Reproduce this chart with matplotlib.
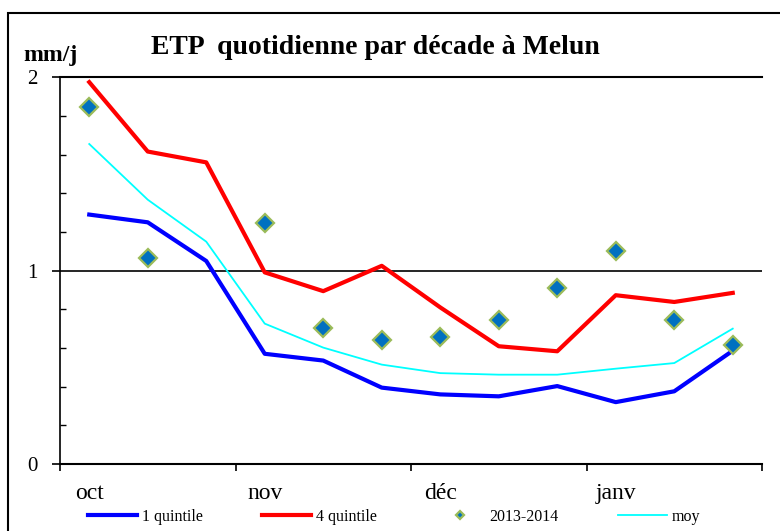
import numpy as np
import matplotlib.pyplot as plt
from matplotlib.patches import Rectangle

plt.rcParams['font.family'] = ['Liberation Serif', 'DejaVu Serif']

# ETP par décade (oct -> janv), mm/j
decades = np.arange(12) + 0.5
q1 = [1.29, 1.25, 1.05, 0.57, 0.535, 0.395, 0.36, 0.35, 0.403, 0.32, 0.376, 0.586]
q4 = [1.975, 1.616, 1.56, 0.991, 0.894, 1.025, 0.81, 0.609, 0.583, 0.873, 0.838, 0.885]
obs = [1.845, 1.065, np.nan, 1.245, 0.704, 0.643, 0.657, 0.744, 0.911, 1.101, 0.744, 0.614]
moy = [1.655, 1.367, 1.15, 0.726, 0.602, 0.514, 0.47, 0.462, 0.462, 0.493, 0.522, 0.70]
months = ['oct', 'nov', 'déc', 'janv']

fig = plt.figure(figsize=(7.8, 5.31), dpi=100)
ax = fig.add_axes([60 / 780, 1 - 464 / 531, 702 / 780, (464 - 77.3) / 531])

# outer frame
fig.patches.append(Rectangle((8 / 780, -0.2), 1.2, 1.2 - 13 / 531, transform=fig.transFigure,
                             fill=False, edgecolor='black', linewidth=1.5, clip_on=False))

ax.plot(decades, q1, color='#0000FF', lw=3, label='1 quintile', zorder=3)
ax.plot(decades, q4, color='#FF0000', lw=3, label='4 quintile', zorder=3)
ax.plot(decades, obs, ls='none', marker='D', ms=9, mfc='#0070C0', mec='#9BBB59',
        mew=1.6, label='2013-2014', zorder=5)
ax.plot(decades, moy, color='#00FFFF', lw=1.3, label='moy', zorder=3)

ax.set_xlim(0, 12)
ax.set_ylim(0, 2)
for s in ['top', 'right']:
    ax.spines[s].set_visible(False)
ax.spines['left'].set_linewidth(1.2)
ax.spines['bottom'].set_linewidth(1.5)
ax.axhline(1, color='black', lw=1.2, zorder=1)
ax.axhline(2, color='black', lw=1.5, zorder=1, clip_on=False)

ax.set_yticks([0, 1, 2], labels=['0', '1', '2'])
ax.set_yticks(np.arange(0, 2.01, 0.2), minor=True)
ax.tick_params(axis='y', which='major', direction='out', length=6, width=1.2, pad=10, labelsize=15)
ax.tick_params(axis='y', which='minor', direction='in', length=4, width=1)

ax.set_xticks([0.5, 3.5, 6.5, 9.5], labels=months)
ax.set_xticks([0, 3, 6, 9, 12], minor=True)
ax.tick_params(axis='x', which='major', length=0, pad=14, labelsize=17)
ax.tick_params(axis='x', which='minor', direction='out', length=5, width=1.2)

fig.text(375 / 780, 1 - 54 / 531, 'ETP  quotidienne par décade à Melun', ha='center',
         va='baseline', fontsize=20, fontweight='bold')
fig.text(23 / 780, 1 - 61 / 531, 'mm/j', ha='left', va='baseline', fontsize=17, fontweight='bold')

fig.legend(loc='center left', bbox_to_anchor=(88 / 780, 1 - 517 / 531), ncol=4, frameon=False,
           fontsize=11.5, handlelength=3.06, handletextpad=0.31, columnspacing=3.7,
           borderpad=0, borderaxespad=0, markerscale=0.5)

plt.savefig('out.png', dpi=100)
plt.close(fig)
